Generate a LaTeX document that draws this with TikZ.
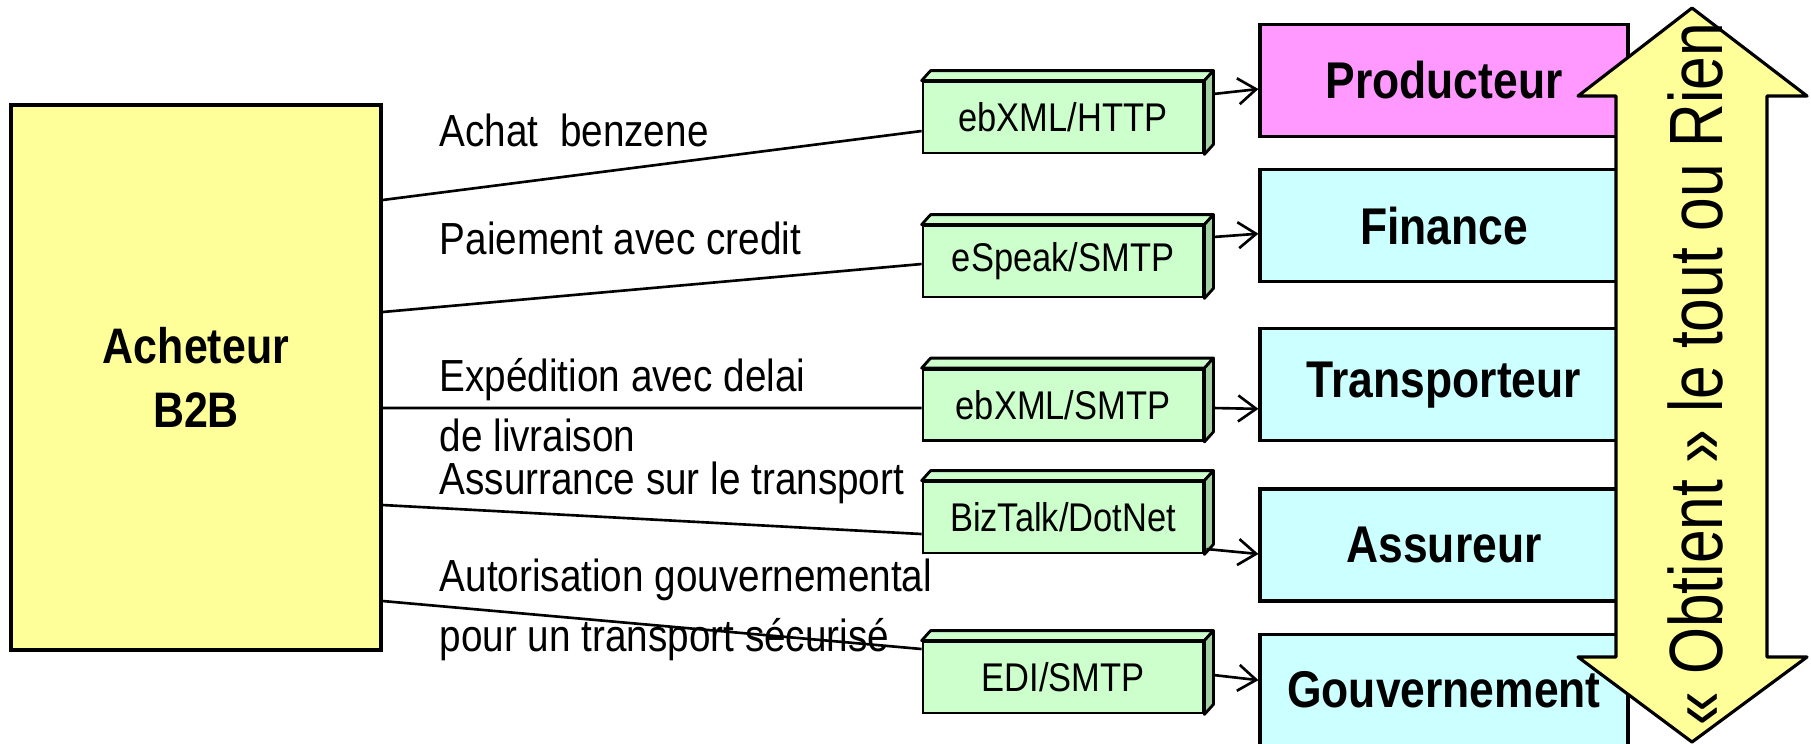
\documentclass[tikz,border=0pt]{standalone}
\usepackage{fontspec}
\newfontfamily\narrowfont[FakeStretch=0.86]{Liberation Sans}
\newfontfamily\arrowfont[FakeStretch=0.8]{Liberation Sans}
\usepackage{xcolor}
\usetikzlibrary{arrows.meta,positioning}
\definecolor{buyerfill}{HTML}{FFFF99}
\definecolor{prodfill}{HTML}{FF99FF}
\definecolor{partfill}{HTML}{CCFFFF}
\definecolor{protofill}{HTML}{CCFFCC}
\definecolor{protoside}{HTML}{A3D1A3}
\tikzset{>=Stealth}

\begin{document}
\begin{tikzpicture}[
    x=0.1mm, y=-0.1mm,
    buyer/.style={rectangle, draw, line width=0.9pt, fill=buyerfill,
        minimum width=37mm, minimum height=54.5mm, align=center,
        font=\narrowfont\bfseries\fontsize{14.2}{18.2}\selectfont},
    partner/.style={rectangle, draw, line width=0.9pt, fill=partfill,
        minimum width=36.8mm, minimum height=11.2mm,
        font=\narrowfont\bfseries\fontsize{14.7}{17}\selectfont},
    proto/.style={rectangle, draw, line width=0.8pt, fill=protofill,
        minimum width=28mm, minimum height=7.1mm,
        font=\narrowfont\fontsize{11.4}{13}\selectfont},
    msg/.style={anchor=base west, inner sep=0pt, align=left,
        font=\narrowfont\fontsize{12.8}{16.8}\selectfont},
    link/.style={line width=0.75pt},
    arrow/.style={-{Straight Barb[length=1.8mm, width=2.6mm]}, line width=0.75pt}
]
    \useasboundingbox (0,0) rectangle (1811,743);

    \node[buyer] (buyer) at (196,377.5) {Acheteur\\B2B};

    % partenaires
    \node[partner, fill=prodfill] (prod) at (1444,80.5) {Producteur};
    \node[partner, below=3.0mm of prod] (fin) {Finance};
    \node[partner, below=4.4mm of fin] (transp) {Transporteur};
    \node[partner, below=4.5mm of transp] (assur) {Assureur};
    \node[partner, below=3.0mm of assur] (gouv) {Gouvernement};

    % protocoles
    \node[proto] (http) at (1063,117.5) {ebXML/HTTP};
    \node[proto] (espeak) at (1063,261.5) {eSpeak/SMTP};
    \node[proto] (smtp) at (1063,405) {ebXML/SMTP};
    \node[proto] (biztalk) at (1063,517.5) {BizTalk/DotNet};
    \node[proto] (edi) at (1063,677.5) {EDI/SMTP};
    \foreach \n in {http,espeak,smtp,biztalk,edi} {
        \filldraw[fill=protofill, line width=0.8pt, line join=round]
            (\n.north west) -- ++(9,-10) -- ([shift={(9,-10)}]\n.north east)
            -- (\n.north east) -- cycle;
        \filldraw[fill=protoside, line width=0.8pt, line join=round]
            (\n.north east) -- ++(9,-10) -- ([shift={(9,-10)}]\n.south east)
            -- (\n.south east) -- cycle;
    }

    % messages (base = last line)
    \node[msg] (lachat) at (439,146) {Achat\ \ benzene};
    \node[msg] (lpaie) at (439,254) {Paiement avec credit};
    \node[msg] (lexped) at (439,451) {Expédition avec delai\\de livraison};
    \node[msg] (lassur) at (439,494) {Assurrance sur le transport};
    \node[msg] (lautor) at (439,651) {Autorisation gouvernemental\\pour un transport sécurisé};

    \draw[link] ([shift={(0,-177.5)}]buyer.east) -- ([shift={(0,13.5)}]http.west);
    \draw[link] ([shift={(0,-65.5)}]buyer.east) -- ([shift={(0,2.5)}]espeak.west);
    \draw[link] ([shift={(0,30.5)}]buyer.east) -- ([shift={(0,3)}]smtp.west);
    \draw[link] ([shift={(0,127.5)}]buyer.east) -- ([shift={(0,16.5)}]biztalk.west);
    \draw[link] ([shift={(0,223.5)}]buyer.east) -- ([shift={(0,-28.5)}]edi.west);

    \draw[arrow] ([shift={(9,-23.5)}]http.east) -- ([shift={(0,8.5)}]prod.west);
    \draw[arrow] ([shift={(9,-24.5)}]espeak.east) -- ([shift={(0,8)}]fin.west);
    \draw[arrow] ([shift={(9,3)}]smtp.east) -- ([shift={(0,24)}]transp.west);
    \draw[arrow] ([shift={(2,31.5)}]biztalk.east) -- ([shift={(0,9)}]assur.west);
    \draw[arrow] ([shift={(9,-2.5)}]edi.east) -- ([shift={(0,-10)}]gouv.west);

    % tout ou rien
    \filldraw[fill=buyerfill, line width=0.9pt, line join=round]
        (1692,8) -- (1807,96) -- (1767,96) -- (1767,657) -- (1807,657)
        -- (1692,742) -- (1578,657) -- (1616,657) -- (1616,96) -- (1578,96) -- cycle;
    \node[rotate=90, inner sep=0pt, font=\arrowfont\fontsize{21.5}{25}\selectfont]
        (obtient) at (1695,374) {« Obtient » le tout ou Rien};
\end{tikzpicture}
\end{document}
